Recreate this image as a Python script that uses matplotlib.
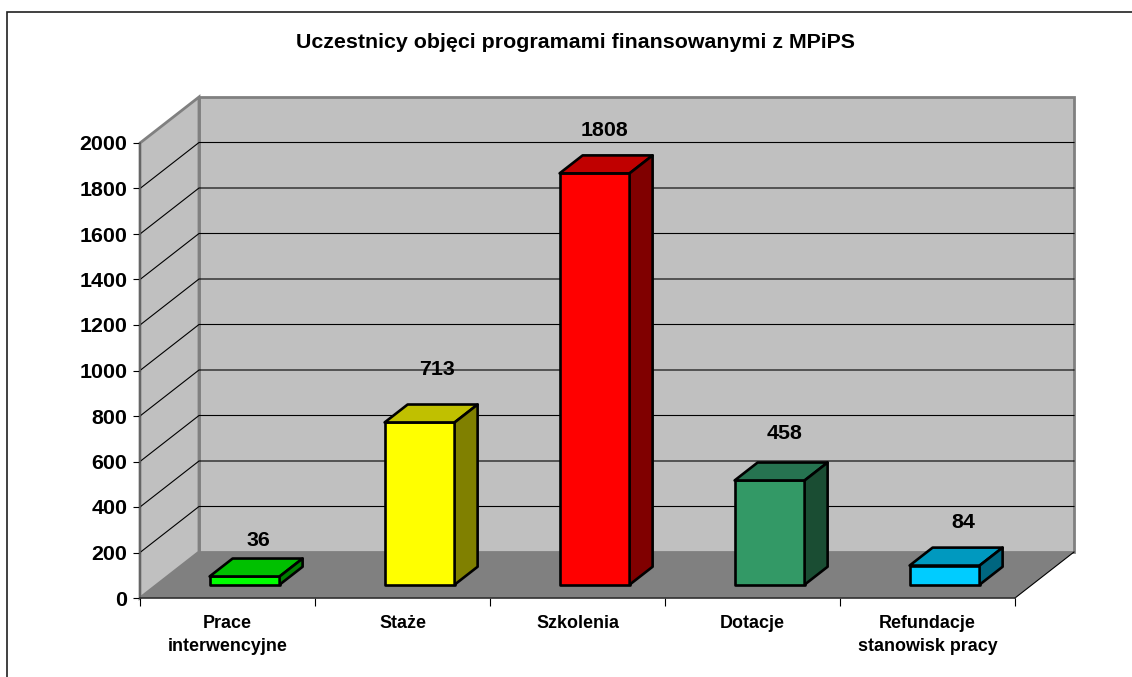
"""
Uczestnicy objeci programami - 3D style column chart drawn in plain matplotlib.
"""

import matplotlib
matplotlib.use("Agg")
import matplotlib.pyplot as plt
from matplotlib.lines import Line2D
from matplotlib.patches import Polygon

plt.rcParams["font.family"] = ["Liberation Sans", "DejaVu Sans"]

categories = ["Prace\ninterwencyjne", "Staże", "Szkolenia", "Dotacje", "Refundacje\nstanowisk pracy"]
values = [36, 713, 1808, 458, 84]
y_ticks = list(range(0, 2001, 200))

front_colors = ["#00FF00", "#FFFF00", "#FF0000", "#339966", "#00CCFF"]
top_colors = ["#00C000", "#C0C000", "#C00000", "#267350", "#0099BF"]
side_colors = ["#008000", "#808000", "#800000", "#1A4D33", "#006680"]

# hand placed labels in the original, pixels away from the bar's front top centre
label_shift = [(14, 36), (17, 53), (10, 43), (15, 47), (19, 43)]

W, H = 1132, 677
DEPTH_X = 59 / 175
DEPTH_Y = 46 / 455 * 2000
BAR_WIDTH = 0.4
BAR_FRONT = 0.29
BAR_BACK = 0.68


def project(x, y, d):
    """Move a point on the front plane back by depth d (0 to 1)."""
    return (x + d * DEPTH_X, y + d * DEPTH_Y)


def quad(ax, points, **kwargs):
    ax.add_patch(Polygon(points, closed=True, clip_on=False, **kwargs))


fig = plt.figure(figsize=(W / 100, H / 100), dpi=100)

# chart frame runs off the picture on the right and at the bottom
fig.add_artist(Line2D([6.5 / W, 6.5 / W, 1], [0, 1 - 11.5 / H, 1 - 11.5 / H],
                      color="#202020", linewidth=1.2, solid_joinstyle="miter"))

ax = fig.add_axes([140 / W, 1 - 598 / H, 875 / W, 455 / H])
ax.set_xlim(0, len(categories))
ax.set_ylim(0, 2000)
ax.patch.set_visible(False)

n = len(categories)
wall_edge = dict(edgecolor="#808080", linewidth=2)

# walls and floor
quad(ax, [project(0, 0, 1), project(n, 0, 1), project(n, 2000, 1), project(0, 2000, 1)],
     facecolor="#C0C0C0", **wall_edge)
quad(ax, [project(0, 0, 0), project(0, 0, 1), project(0, 2000, 1), project(0, 2000, 0)],
     facecolor="#C0C0C0", **wall_edge)
quad(ax, [project(0, 0, 0), project(n, 0, 0), project(n, 0, 1), project(0, 0, 1)],
     facecolor="#808080", edgecolor="none")

# gridlines run along the side wall and across the back wall, top edge stays grey
for tick in y_ticks[1:-1]:
    xs, ys = zip(project(0, tick, 0), project(0, tick, 1), project(n, tick, 1))
    ax.plot(xs, ys, color="black", linewidth=0.8, clip_on=False, solid_joinstyle="miter")
ax.plot(*zip(project(n, 0, 0), project(n, 0, 1)), color="black", linewidth=0.8, clip_on=False)

# bars
for i, value in enumerate(values):
    x0 = i + 0.5 - BAR_WIDTH / 2
    x1 = i + 0.5 + BAR_WIDTH / 2
    edge = dict(edgecolor="black", linewidth=1.9, joinstyle="round", zorder=3)
    quad(ax, [project(x0, 0, BAR_FRONT), project(x1, 0, BAR_FRONT),
              project(x1, value, BAR_FRONT), project(x0, value, BAR_FRONT)],
         facecolor=front_colors[i], **edge)
    quad(ax, [project(x0, value, BAR_FRONT), project(x1, value, BAR_FRONT),
              project(x1, value, BAR_BACK), project(x0, value, BAR_BACK)],
         facecolor=top_colors[i], **edge)
    quad(ax, [project(x1, 0, BAR_FRONT), project(x1, 0, BAR_BACK),
              project(x1, value, BAR_BACK), project(x1, value, BAR_FRONT)],
         facecolor=side_colors[i], **edge)
    ax.annotate(str(value), xy=project(i + 0.5, value, BAR_FRONT), xytext=label_shift[i],
                textcoords="offset pixels", ha="center", va="center",
                fontsize=15.4, fontweight="bold", annotation_clip=False, zorder=4)

for side in ["top", "right"]:
    ax.spines[side].set_visible(False)
ax.spines["left"].set_color("#606060")
ax.spines["left"].set_linewidth(1.2)
ax.spines["bottom"].set_color("#303030")
ax.spines["bottom"].set_linewidth(1.2)
ax.spines["left"].set_zorder(2)
ax.spines["bottom"].set_zorder(2)

ax.set_yticks(y_ticks)
ax.set_yticklabels([str(t) for t in y_ticks], fontsize=15.4, fontweight="bold")
ax.tick_params(axis="y", length=5, width=0.8, pad=4)

ax.set_xticks(range(n + 1))
ax.set_xticklabels([])
ax.tick_params(axis="x", which="major", length=6, width=0.8)
ax.set_xticks([i + 0.5 for i in range(n)], minor=True)
ax.set_xticklabels(categories, minor=True, fontsize=12.9, fontweight="bold", linespacing=1.45)
ax.tick_params(axis="x", which="minor", length=0, pad=12)

fig.text(576 / W, 1 - 43 / H, "Uczestnicy objęci programami finansowanymi z MPiPS",
         ha="center", va="center", fontsize=15.4, fontweight="bold")

fig.savefig("out.png", dpi=100)
